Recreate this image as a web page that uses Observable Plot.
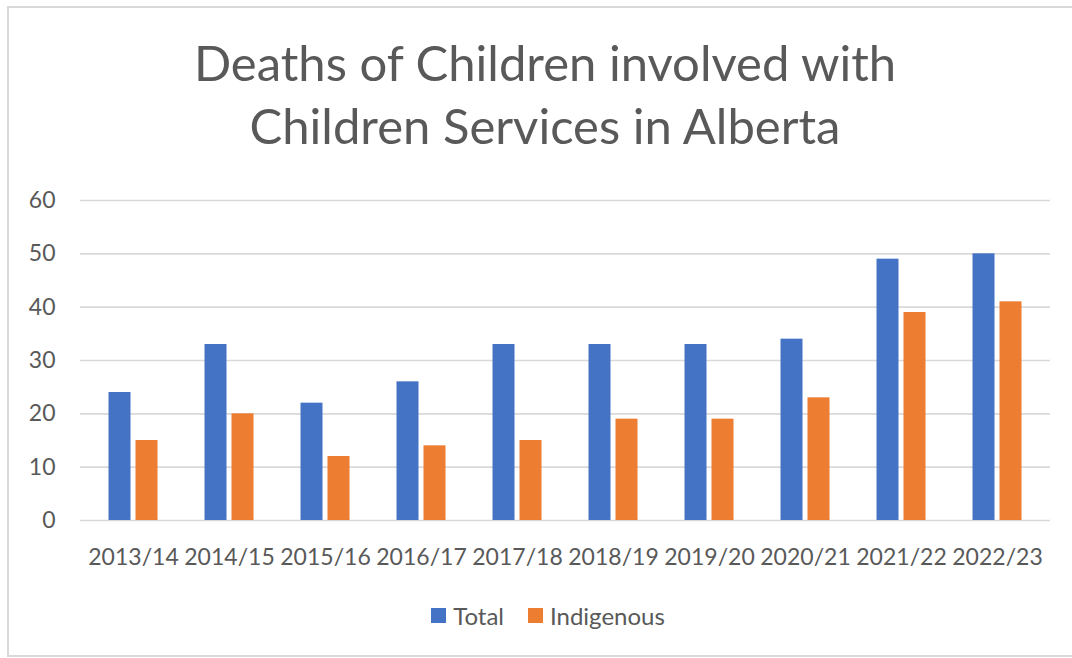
<!DOCTYPE html>
<html>
<head>
<meta charset="utf-8">
<script src="https://cdn.jsdelivr.net/npm/d3@7"></script>
<script src="https://cdn.jsdelivr.net/npm/@observablehq/plot@0.6"></script>
<style>
  html, body { margin: 0; padding: 0; background: #fff; overflow: hidden; }
  body { width: 1072px; height: 658px; position: relative; font-family: Lato, "Open Sans", sans-serif; color: #595959; }
  #frame { position: absolute; left: 7px; top: 6px; width: 1065px; height: 651px; border: 2px solid #d9d9d9; border-right: none; box-sizing: border-box; }
  #title { position: absolute; left: 0; top: 31px; width: 1090px; text-align: center; font-size: 49px; line-height: 63px; color: #595959; }
  #chart { position: absolute; left: 0; top: 180px; }
  #legend { position: absolute; left: 0; top: 601px; width: 1096px; display: flex; justify-content: center; align-items: center; font-size: 24px; color: #595959; }
  .item { display: flex; align-items: center; margin: 0 12px; }
  .sw { width: 15px; height: 15px; margin-right: 7px; }
</style>
</head>
<body>
<div id="frame"></div>
<div id="title">Deaths of Children involved with<br>Children Services in Alberta</div>
<div id="chart"></div>
<div id="legend"></div>
<script>
const years = ["2013/14","2014/15","2015/16","2016/17","2017/18","2018/19","2019/20","2020/21","2021/22","2022/23"];
const totalValues = [24, 33, 22, 26, 33, 33, 33, 34, 49, 50];
const indigenousValues = [15, 20, 12, 14, 15, 19, 19, 23, 39, 41];
const yTicks = [0, 10, 20, 30, 40, 50, 60];
const seriesNames = ["Total", "Indigenous"];
const seriesColors = ["#4472C4", "#ED7D31"];

const totalData = years.map((y, i) => ({year: y, value: totalValues[i]}));
const indigData = years.map((y, i) => ({year: y, value: indigenousValues[i]}));

const chart = Plot.plot({
  width: 1072,
  height: 400,
  marginLeft: 80,
  marginRight: 22,
  marginTop: 20,
  marginBottom: 60,
  style: { fontFamily: "Lato, 'Open Sans', sans-serif", fontSize: "23px", color: "#595959", background: "transparent" },
  x: { type: "band", domain: years, paddingInner: 0.773, paddingOuter: 0.387, label: null },
  y: { domain: [0, 60], label: null },
  marks: [
    Plot.ruleY(yTicks, { stroke: "#d9d9d9", strokeWidth: 1.6 }),
    Plot.barY(totalData, { x: "year", y: "value", fill: seriesColors[0], dx: -13.5 }),
    Plot.barY(indigData, { x: "year", y: "value", fill: seriesColors[1], dx: 13.5 }),
    Plot.axisX({ tickSize: 0, tickPadding: 28, label: null, fill: "#595959" }),
    Plot.axisY({ ticks: yTicks, tickSize: 0, tickPadding: 25, label: null, fill: "#595959" })
  ]
});
document.getElementById("chart").appendChild(chart);

const legend = document.getElementById("legend");
seriesNames.forEach((name, i) => {
  const item = document.createElement("div");
  item.className = "item";
  const sw = document.createElement("div");
  sw.className = "sw";
  sw.style.background = seriesColors[i];
  const label = document.createElement("span");
  label.textContent = name;
  item.appendChild(sw);
  item.appendChild(label);
  legend.appendChild(item);
});
</script>
</body>
</html>
